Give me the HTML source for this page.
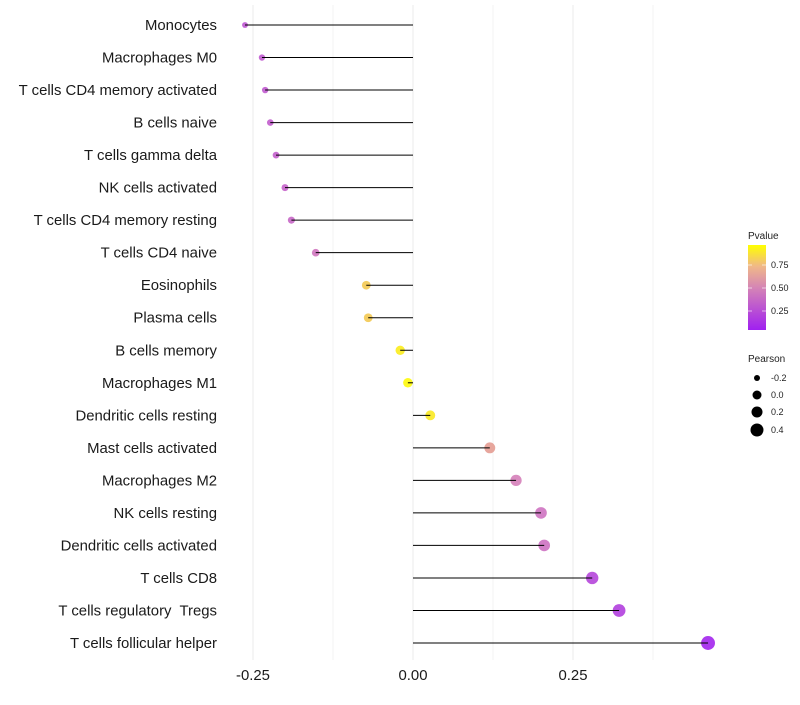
<!DOCTYPE html>
<html><head><meta charset="utf-8"><style>
body{margin:0;background:#fff;font-family:"Liberation Sans",sans-serif}
text{white-space:pre}
</style></head><body>
<svg id="chart" width="800" height="700" xmlns="http://www.w3.org/2000/svg" xml:space="preserve">
<defs><linearGradient id="pg" x1="0" y1="1" x2="0" y2="0">
<stop offset="0" stop-color="#A020F0"/><stop offset="0.5" stop-color="#D585B5"/><stop offset="0.75" stop-color="#F0B888"/><stop offset="1" stop-color="#FFFF00"/></linearGradient></defs>
<g id="grid"></g>
<g id="points"></g>
<g id="stems"></g>
<g id="labels"></g>
<g id="xticks"></g>
<g font-size="9" fill="#222">
<text x="748" y="239" font-size="10">Pvalue</text>
<rect x="748" y="245" width="18" height="85" fill="url(#pg)"/>
<line x1="748" x2="752" y1="265" y2="265" stroke="#fff" stroke-opacity="0.6"/><line x1="762" x2="766" y1="265" y2="265" stroke="#fff" stroke-opacity="0.6"/>
<line x1="748" x2="752" y1="288" y2="288" stroke="#fff" stroke-opacity="0.6"/><line x1="762" x2="766" y1="288" y2="288" stroke="#fff" stroke-opacity="0.6"/>
<line x1="748" x2="752" y1="311" y2="311" stroke="#fff" stroke-opacity="0.6"/><line x1="762" x2="766" y1="311" y2="311" stroke="#fff" stroke-opacity="0.6"/>
<text x="771" y="268">0.75</text><text x="771" y="291">0.50</text><text x="771" y="314">0.25</text>
</g>
<g font-size="9" fill="#222">
<text x="748" y="362" font-size="10">Pearson</text>
<circle cx="757" cy="378" r="3" fill="#000"/><text x="771" y="381">-0.2</text>
<circle cx="757" cy="395" r="4.5" fill="#000"/><text x="771" y="398">0.0</text>
<circle cx="757" cy="412" r="5.5" fill="#000"/><text x="771" y="415">0.2</text>
<circle cx="757" cy="430" r="6.5" fill="#000"/><text x="771" y="433">0.4</text>
</g>
</svg>
<script>
const categories=["Monocytes","Macrophages M0","T cells CD4 memory activated","B cells naive","T cells gamma delta","NK cells activated","T cells CD4 memory resting","T cells CD4 naive","Eosinophils","Plasma cells","B cells memory","Macrophages M1","Dendritic cells resting","Mast cells activated","Macrophages M2","NK cells resting","Dendritic cells activated","T cells CD8","T cells regulatory  Tregs","T cells follicular helper"];
const pearson=[-0.2625,-0.236,-0.231,-0.223,-0.214,-0.2,-0.19,-0.152,-0.073,-0.07,-0.02,-0.008,0.027,0.12,0.161,0.2,0.205,0.28,0.322,0.461];
const pvalue=[0.28,0.3,0.3,0.32,0.33,0.35,0.37,0.45,0.83,0.83,0.94,0.98,0.93,0.65,0.5,0.43,0.42,0.2,0.16,0.03];
const xTicks=[-0.25,0,0.25];
const xTickLabels=["-0.25","0.00","0.25"];
const NS="http://www.w3.org/2000/svg";
const xs=v=>413+640*v;
const ys=i=>25+i*(618/19);
const rs=v=>Math.sqrt(Math.max(1,23+55*v));
function lerp(a,b,t){return a.map((c,i)=>Math.round(c+(b[i]-c)*t));}
function col(p){const s=[[0,[160,32,240]],[0.5,[213,128,185]],[0.75,[238,175,120]],[1,[255,255,0]]];
for(let i=1;i<s.length;i++){if(p<=s[i][0]){const t=(p-s[i-1][0])/(s[i][0]-s[i-1][0]);return "rgb("+lerp(s[i-1][1],s[i][1],t).join(",")+")";}}return "rgb(255,255,0)";}
function mk(tag,at,parent){const e=document.createElementNS(NS,tag);for(const k in at)e.setAttribute(k,at[k]);parent.appendChild(e);return e;}
const grid=document.getElementById('grid'),points=document.getElementById('points'),stems=document.getElementById('stems'),labels=document.getElementById('labels'),xt=document.getElementById('xticks');
[-0.25,-0.125,0,0.125,0.25,0.375].forEach(v=>{const l=mk('line',{x1:xs(v),x2:xs(v),y1:5,y2:660,stroke:Math.abs(v*8)%2===0?'#ebebeb':'#f3f3f3','stroke-width':1},grid);

});
categories.forEach((c,i)=>{
const y=ys(i);
const pt=mk('circle',{cx:xs(pearson[i]),cy:y,r:rs(pearson[i]),fill:col(pvalue[i]),'fill-opacity':0.9},points);


const ln=mk('line',{x1:xs(0),x2:xs(pearson[i]),y1:y,y2:y,stroke:'#000','stroke-width':1},stems);


const t=mk('text',{x:217,y:y+5,'text-anchor':'end','font-size':14.9,fill:'#1a1a1a'},labels);
t.textContent=c;


});
xTicks.forEach((v,i)=>{const t=mk('text',{x:xs(v),y:680,'text-anchor':'middle','font-size':14.9,fill:'#1a1a1a'},xt);
t.textContent=xTickLabels[i];

});
</script>
</body></html>
